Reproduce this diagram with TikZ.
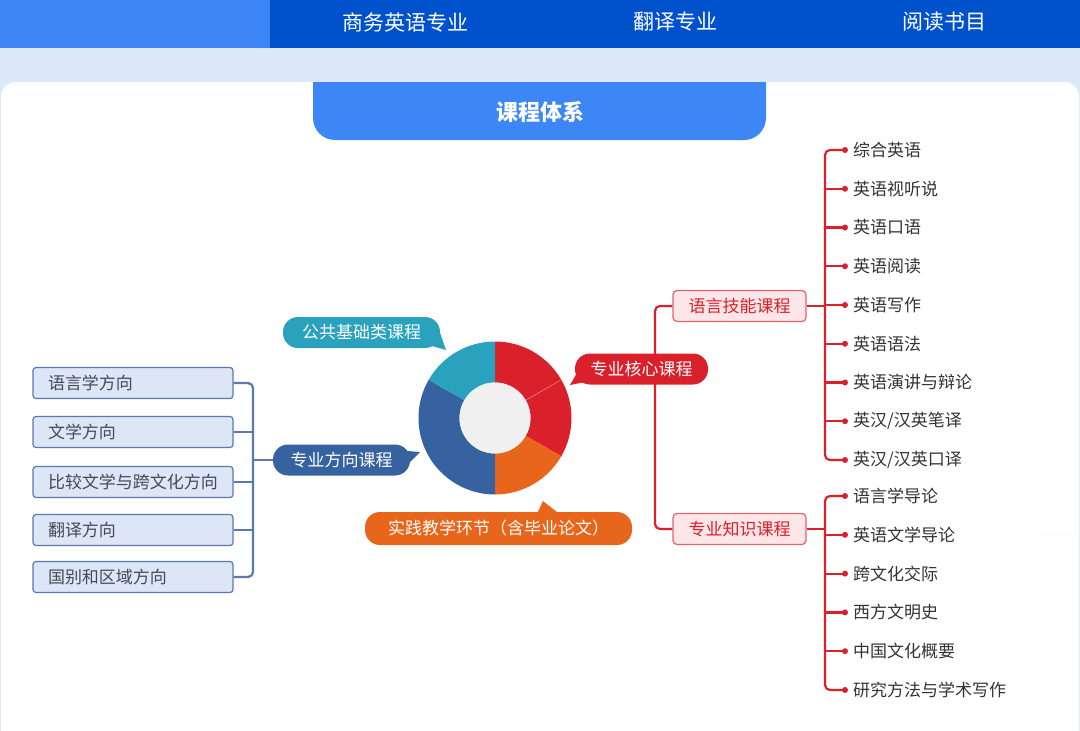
\documentclass[tikz,border=0pt]{standalone}
\usepackage{fontspec}
\setmainfont{Noto Sans CJK SC}
\definecolor{navlight}{HTML}{3B85F7}
\definecolor{navdark}{HTML}{0052CC}
\definecolor{pagebg}{HTML}{DDE9FB}
\definecolor{tabblue}{HTML}{3C86F6}
\definecolor{cred}{HTML}{D9202B}
\definecolor{corange}{HTML}{E8661C}
\definecolor{cblue}{HTML}{36639F}
\definecolor{cteal}{HTML}{2AA2BE}
\definecolor{dfill}{HTML}{DCE6F7}
\definecolor{dline}{HTML}{5B79AC}
\definecolor{pinkfill}{HTML}{FDE6E8}
\definecolor{pinkline}{HTML}{E2646D}
\definecolor{itemtext}{HTML}{333333}
\definecolor{dtext}{HTML}{454A55}
\tikzset{
  navtext/.style={text=white, font=\fontsize{21}{24}\selectfont, inner sep=0},
  pill/.style={text=white, font=\fontsize{17}{20}\selectfont, rounded corners=15, minimum height=31, inner xsep=0, inner ysep=0},
  dirbox/.style={draw=dline, line width=1.2, fill=dfill, rounded corners=3, text=dtext, font=\fontsize{17}{20}\selectfont, text width=170, align=left, inner xsep=15, inner ysep=0, minimum height=31},
  skbox/.style={draw=pinkline, line width=1.2, fill=pinkfill, rounded corners=4, text=cred, font=\fontsize{17}{20}\selectfont, minimum width=133, minimum height=31, inner sep=0},
  item/.style={anchor=west, text=itemtext, font=\fontsize{17}{20}\selectfont, inner sep=0},
  bline/.style={draw=dline, line width=2.2, rounded corners=5},
  rline/.style={draw=cred, line width=2.2, rounded corners=5},
  rdot/.style={fill=cred, circle, inner sep=0, minimum size=6},
}
\begin{document}
\begin{tikzpicture}[x=1pt, y=-1pt]
\useasboundingbox (0,0) rectangle (1080,731);
% background
\fill[pagebg] (0,0) rectangle (1080,731);
\fill[navdark] (0,0) rectangle (1080,48);
\fill[navlight] (0,0) rectangle (270,48);
\node[navtext] (nav1) at (405,22) {商务英语专业};
\node[navtext] (nav2) at (675,22) {翻译专业};
\node[navtext] (nav3) at (944,22) {阅读书目};
% card
\fill[white, rounded corners=15] (1,82) rectangle (1079,780);
\fill[white!96!pagebg] (1040,530) rectangle (1079,731);
\begin{scope}
\clip (0,82) rectangle (1080,731);
\fill[tabblue, rounded corners=22] (313,40) rectangle (766,140);
\end{scope}
\node[text=white, font=\fontsize{22}{26}\selectfont\bfseries, inner sep=0] (title) at (540,112) {课程体系};

% donut
\begin{scope}[shift={(495,418)}, yscale=-1]
\def\ri{35.5}\def\ro{76.5}
\fill[cred] (90:\ri) arc[start angle=90, end angle=30, radius=\ri] -- (30:\ro) arc[start angle=30, end angle=90, radius=\ro] -- cycle;
\fill[cred] (30:\ri) arc[start angle=30, end angle=-30, radius=\ri] -- (-30:\ro) arc[start angle=-30, end angle=30, radius=\ro] -- cycle;
\fill[corange] (-30:\ri) arc[start angle=-30, end angle=-90, radius=\ri] -- (-90:\ro) arc[start angle=-90, end angle=-30, radius=\ro] -- cycle;
\fill[cblue] (-90:\ri) arc[start angle=-90, end angle=-210, radius=\ri] -- (150:\ro) arc[start angle=150, end angle=270, radius=\ro] -- cycle;
\fill[cteal] (150:\ri) arc[start angle=150, end angle=90, radius=\ri] -- (90:\ro) arc[start angle=90, end angle=150, radius=\ro] -- cycle;
\draw[white!40!cred, line width=0.6] (30:\ri) -- (30:\ro);
\fill[black!6] (0,0) circle[radius=\ri];
\end{scope}

% left tree
\coordinate (lbus) at (253,0);
\node[dirbox] (d1) at (133,383) {语言学方向};
\node[dirbox] (d2) at (133,432) {文学方向};
\node[dirbox] (d3) at (133,482) {比较文学与跨文化方向};
\node[dirbox] (d4) at (133,530) {翻译方向};
\node[dirbox] (d5) at (133,577) {国别和区域方向};
\draw[bline] (d1.east) -- (d1.east -| lbus) -- (d5.east -| lbus) -- (d5.east);
\draw[bline] (d2.east) -- (d2.east -| lbus);
\draw[bline] (d3.east) -- (d3.east -| lbus);
\draw[bline] (d4.east) -- (d4.east -| lbus);

% callouts
\node[pill, fill=cteal, minimum width=157] (pub) at (361.5,332.5) {公共基础类课程};
\fill[cteal] (425,344) -- (446,350) -- (438,327) -- cycle;
\node[pill, fill=cblue, minimum width=137] (dir) at (341.5,460) {专业方向课程};
\fill[cblue] (395,450) -- (420,452) -- (402,470) -- cycle;
\draw[bline] (dir.west -| lbus) -- (dir.west);
\node[pill, fill=corange, minimum width=267, minimum height=33] (prac) at (498.5,528.5) {实践教学环节（含毕业论文）};
\fill[corange] (536,516) -- (543,501) -- (562,516) -- cycle;

% right tree
\coordinate (cbus) at (655,0);
\coordinate (sbus) at (825,0);
\coordinate (dotx) at (845,0);
\node[skbox] (skill) at (739.5,306) {语言技能课程};
\node[skbox] (know) at (739.5,529) {专业知识课程};
\draw[rline] (skill.west) -- (skill.west -| cbus) -- (know.west -| cbus) -- (know.west);
\node[pill, fill=cred, minimum width=133] (core) at (641.5,369) {专业核心课程};
\fill[cred] (581,366) -- (570,385) -- (595,380) -- cycle;

\foreach \t [count=\i] in {综合英语,英语视听说,英语口语,英语阅读,英语写作,英语语法,英语演讲与辩论,英汉/汉英笔译,英汉/汉英口译}{
  \pgfmathsetmacro{\yy}{150+(\i-1)*38.75}
  \node[item] (s\i) at (853,\yy) {\t};
  \node[rdot] (sd\i) at (s\i.west -| dotx) {};
}
\draw[rline] (sd1.center) -- (sd1.center -| sbus) -- (sd9.center -| sbus) -- (sd9.center);
\foreach \i in {2,...,8}{ \draw[rline] (sd\i.center -| sbus) -- (sd\i.center); }
\draw[rline] (skill.east) -- (skill.east -| sbus);

\foreach \t [count=\i] in {语言学导论,英语文学导论,跨文化交际,西方文明史,中国文化概要,研究方法与学术写作}{
  \pgfmathsetmacro{\yy}{496+(\i-1)*38.8}
  \node[item] (k\i) at (853,\yy) {\t};
  \node[rdot] (kd\i) at (k\i.west -| dotx) {};
}
\draw[rline] (kd1.center) -- (kd1.center -| sbus) -- (kd6.center -| sbus) -- (kd6.center);
\foreach \i in {2,...,5}{ \draw[rline] (kd\i.center -| sbus) -- (kd\i.center); }
\draw[rline] (know.east) -- (know.east -| sbus);
\end{tikzpicture}
\end{document}
